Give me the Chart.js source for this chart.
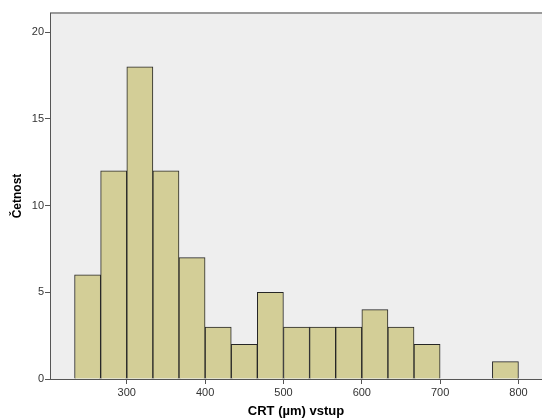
<!DOCTYPE html>
<html>
<head>
<meta charset="utf-8">
<script src="https://cdn.jsdelivr.net/npm/chart.js@4/dist/chart.umd.min.js"></script>
<style>
  body { margin: 0; background: #ffffff; }
  #wrap { width: 542px; height: 419px; }
</style>
</head>
<body>
<div id="wrap"><canvas id="histChart"></canvas></div>
<script>
// středy tříd histogramu (šířka třídy 33,3 µm)
const binCenters = [250, 283.3, 316.7, 350, 383.3, 416.7, 450, 483.3, 516.7, 550, 583.3, 616.7, 650, 683.3, 716.7, 750, 783.3];
const counts = [6, 12, 18, 12, 7, 3, 2, 5, 3, 3, 3, 4, 3, 2, 0, 0, 1];
const xTicks = [300, 400, 500, 600, 700, 800];
const yTicks = [0, 5, 10, 15, 20];

// šedé pozadí plochy grafu + horní rámeček
const plotBg = {
    id: 'plotBg',
    beforeDraw(chart) {
        const { ctx, chartArea: a } = chart;
        ctx.save();
        ctx.fillStyle = '#eeeeee';
        ctx.fillRect(a.left, a.top, a.right - a.left, a.bottom - a.top);
        ctx.strokeStyle = '#9a9a9a';
        ctx.lineWidth = 2;
        ctx.beginPath();
        ctx.moveTo(a.left, a.top);
        ctx.lineTo(a.right, a.top);
        ctx.stroke();
        ctx.restore();
    }
};

const ctx = document.getElementById('histChart').getContext('2d');
new Chart(ctx, {
    type: 'bar',
    data: {
        datasets: [{
            data: binCenters.map((c, i) => ({ x: c, y: counts[i] })),
            backgroundColor: '#d3ce97',
            borderColor: '#262626',
            borderWidth: 1,
            barPercentage: 1,
            categoryPercentage: 1,
            grouped: false
        }]
    },
    options: {
        responsive: true,
        maintainAspectRatio: false,
        animation: false,
        layout: { padding: { top: 13, right: 0, left: 0, bottom: 0 } },
        plugins: {
            legend: { display: false },
            tooltip: { enabled: false }
        },
        scales: {
            x: {
                type: 'linear',
                min: 202,
                max: 830,
                offset: false,
                afterBuildTicks: s => { s.ticks = xTicks.map(v => ({ value: v })); },
                afterFit: s => { s.height = 40; },
                border: { color: '#555555', width: 1 },
                grid: { drawOnChartArea: false, offset: false, tickLength: 5, color: '#555555' },
                ticks: { color: '#333333', padding: 2, font: { family: 'Liberation Sans', size: 11 } },
                title: {
                    display: true,
                    text: 'CRT (µm) vstup',
                    color: '#000000',
                    padding: { top: 4, bottom: 0 },
                    font: { family: 'Liberation Sans', size: 13, weight: 'bold' }
                }
            },
            y: {
                min: 0,
                max: 21.1,
                afterBuildTicks: s => { s.ticks = yTicks.map(v => ({ value: v })); },
                afterFit: s => { s.width = 50; },
                border: { color: '#555555', width: 1 },
                grid: { drawOnChartArea: false, tickLength: 5, color: '#555555' },
                ticks: { color: '#333333', padding: 1, font: { family: 'Liberation Sans', size: 11 } },
                title: {
                    display: true,
                    text: 'Četnost',
                    color: '#000000',
                    padding: { top: 10, bottom: 4 },
                    font: { family: 'Liberation Sans', size: 12, weight: 'bold' }
                }
            }
        }
    },
    plugins: [plotBg]
});
</script>
</body>
</html>
